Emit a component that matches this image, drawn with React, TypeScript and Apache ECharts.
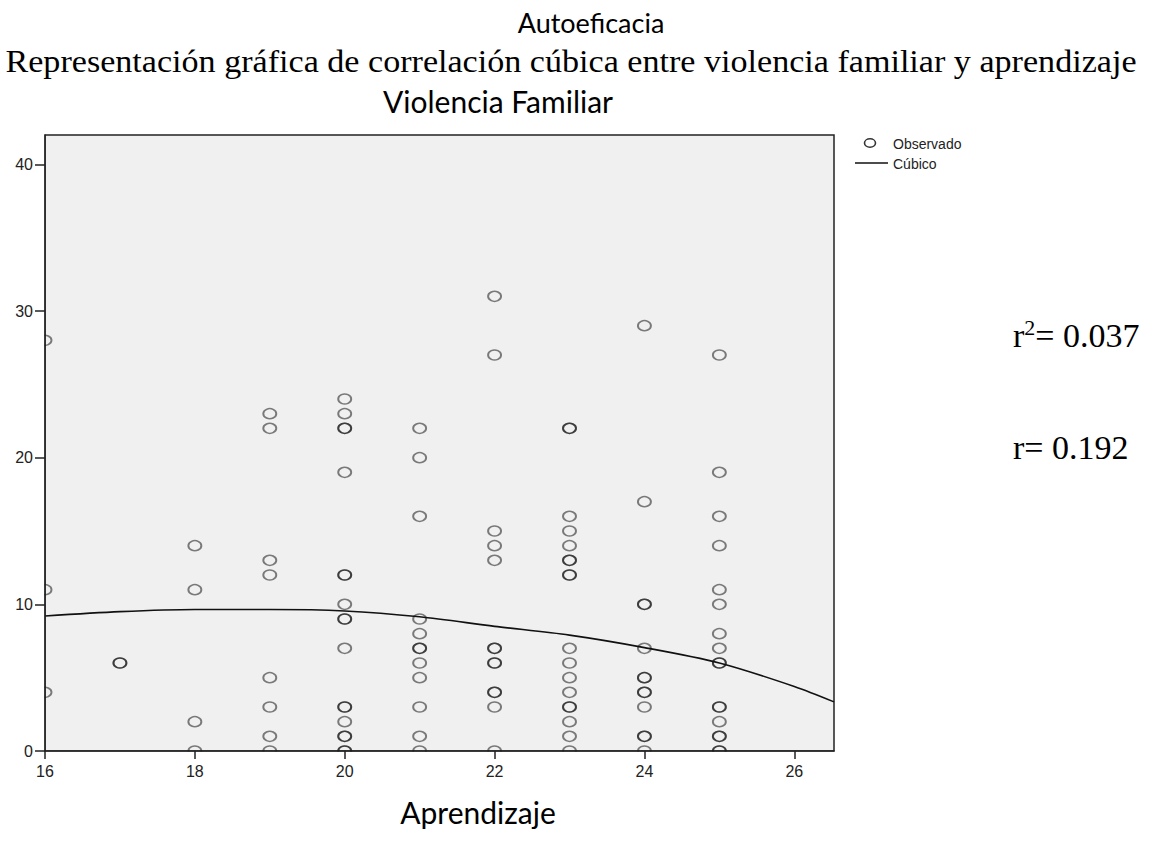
import React, { useEffect, useRef } from "react";
import * as echarts from "echarts";

// ---- data ----
const xTicks = [16, 18, 20, 22, 24, 26];
const yTicks = [0, 10, 20, 30, 40];

// observed values per Aprendizaje score; repeated values = overlapping points
const col16 = [28, 11, 4];
const col17 = [6, 6];
const col18 = [14, 11, 2, 0];
const col19 = [23, 22, 13, 12, 5, 3, 1, 0];
const col20 = [24, 23, 22, 22, 19, 12, 12, 10, 9, 9, 7, 3, 3, 2, 1, 1, 0, 0];
const col21 = [22, 20, 16, 9, 8, 7, 7, 6, 5, 3, 1, 0];
const col22 = [31, 27, 15, 14, 13, 7, 7, 6, 6, 4, 4, 3, 0];
const col23 = [22, 22, 16, 15, 14, 13, 13, 12, 12, 7, 6, 5, 4, 3, 3, 2, 1, 0];
const col24 = [29, 17, 10, 10, 7, 5, 5, 4, 4, 3, 1, 1, 0];
const col25 = [27, 19, 16, 14, 11, 10, 8, 7, 6, 6, 3, 3, 2, 1, 1, 0, 0];

const columnX = [16, 17, 18, 19, 20, 21, 22, 23, 24, 25];
const columnVals = [col16, col17, col18, col19, col20, col21, col22, col23, col24, col25];

// cubic fit curve
const fitX = [16, 17, 18, 19, 20, 21, 22, 23, 24, 25, 26, 26.53];
const fitY = [9.2, 9.5, 9.65, 9.65, 9.55, 9.15, 8.5, 7.9, 7.05, 6.0, 4.4, 3.35];

const xMin = 16;
const xMax = 26.53;
const yMin = 0;
const yMax = 42;

export default function App() {
  const ref = useRef<HTMLDivElement>(null);

  useEffect(() => {
    document.body.style.margin = "0";
    if (!ref.current) return;
    const chart = echarts.init(ref.current, null, { renderer: "svg" });

    const observed: number[][] = [];
    columnX.forEach((x, i) => columnVals[i].forEach((v) => observed.push([x, v])));
    const fit = fitX.map((x, i) => [x, fitY[i]]);

    const sans = "'Liberation Sans', Arial, sans-serif";
    const serif = "'Liberation Serif', 'Times New Roman', serif";
    const calibri = "Lato, 'Open Sans', sans-serif";

    chart.setOption({
      animation: false,
      backgroundColor: "#ffffff",
      grid: {
        left: 45,
        top: 135,
        width: 789,
        height: 616,
        show: true,
        backgroundColor: "#f0f0f0",
        borderColor: "#222",
        borderWidth: 1.5,
      },
      xAxis: {
        type: "value",
        min: xMin,
        max: xMax,
        z: 10,
        axisLine: { show: true, onZero: false, lineStyle: { color: "#222", width: 1.5 } },
        axisTick: { show: true, length: 8, customValues: xTicks, lineStyle: { color: "#222", width: 1.5 } },
        axisLabel: { customValues: xTicks, margin: 12, fontSize: 16, color: "#222", fontFamily: sans },
        splitLine: { show: false },
      },
      yAxis: {
        type: "value",
        min: yMin,
        max: yMax,
        z: 10,
        axisLine: { show: true, onZero: false, lineStyle: { color: "#222", width: 1.5 } },
        axisTick: { show: true, length: 10, customValues: yTicks, lineStyle: { color: "#222", width: 1.5 } },
        axisLabel: { customValues: yTicks, margin: 12, fontSize: 16, color: "#222", fontFamily: sans },
        splitLine: { show: false },
      },
      series: [
        {
          name: "Observado",
          type: "scatter",
          data: observed,
          clip: true,
          symbol: "circle",
          symbolSize: [13, 10],
          z: 2,
          itemStyle: {
            color: "rgba(0,0,0,0)",
            borderColor: "rgba(0,0,0,0.62)",
            borderWidth: 1.7,
          },
        },
        {
          name: "Cúbico",
          type: "line",
          data: fit,
          smooth: 0.3,
          clip: true,
          symbol: "none",
          z: 3,
          lineStyle: { color: "#111", width: 1.6 },
        },
      ],
      graphic: [
        // masks so that marks are cut at the plot frame
        {
          type: "rect",
          z: 5,
          shape: { x: 28, y: 120, width: 16.3, height: 645 },
          style: { fill: "#ffffff" },
        },
        {
          type: "rect",
          z: 5,
          shape: { x: 28, y: 751.8, width: 815, height: 10 },
          style: { fill: "#ffffff" },
        },
        {
          type: "text",
          x: 591,
          y: 22,
          style: { text: "Autoeficacia", font: `27px ${calibri}`, fill: "#000", textAlign: "center", textVerticalAlign: "middle" },
        },
        {
          type: "text",
          x: 571,
          y: 62,
          scaleX: 1.1,
          originX: 0,
          originY: 0,
          style: {
            text: "Representación gráfica de correlación cúbica entre violencia familiar y aprendizaje",
            font: `31px ${serif}`,
            fill: "#000",
            textAlign: "center",
            textVerticalAlign: "middle",
          },
        },
        {
          type: "text",
          x: 498,
          y: 101,
          style: { text: "Violencia Familiar", font: `30px ${calibri}`, fill: "#000", textAlign: "center", textVerticalAlign: "middle" },
        },
        {
          type: "text",
          x: 478,
          y: 812,
          style: { text: "Aprendizaje", font: `30px ${calibri}`, fill: "#000", textAlign: "center", textVerticalAlign: "middle" },
        },
        // legend
        {
          type: "ellipse",
          shape: { cx: 870, cy: 143, rx: 5.5, ry: 4.2 },
          style: { fill: "none", stroke: "#333", lineWidth: 1.6 },
        },
        {
          type: "text",
          x: 893,
          y: 144,
          style: { text: "Observado", font: `14px ${sans}`, fill: "#222", textVerticalAlign: "middle" },
        },
        {
          type: "line",
          shape: { x1: 855, y1: 163, x2: 888, y2: 163 },
          style: { stroke: "#111", lineWidth: 1.6 },
        },
        {
          type: "text",
          x: 893,
          y: 164,
          style: { text: "Cúbico", font: `14px ${sans}`, fill: "#222", textVerticalAlign: "middle" },
        },
        // statistics
        {
          type: "text",
          x: 1013,
          y: 335,
          style: {
            text: "{a|r}{b|2}{a|= 0.037}",
            textVerticalAlign: "middle",
            rich: {
              a: { fontSize: 34, fontFamily: serif, fill: "#000", lineHeight: 38 },
              b: { fontSize: 22, fontFamily: serif, fill: "#000", verticalAlign: "top", lineHeight: 24 },
            },
          },
        },
        {
          type: "text",
          x: 1013,
          y: 447,
          style: { text: "r= 0.192", font: `34px ${serif}`, fill: "#000", textVerticalAlign: "middle" },
        },
      ],
    });

    return () => chart.dispose();
  }, []);

  return <div ref={ref} style={{ width: 1158, height: 842 }} />;
}
